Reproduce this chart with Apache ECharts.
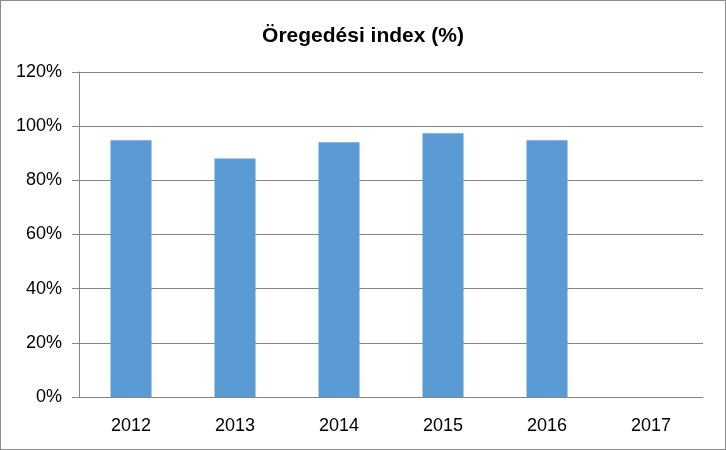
<!DOCTYPE html>
<html>
<head>
<meta charset="utf-8">
<script src="https://cdn.jsdelivr.net/npm/echarts@6/dist/echarts.min.js"></script>
<style>
    html, body { margin: 0; padding: 0; background: #fff; }
    #chart { width: 726px; height: 450px; box-sizing: border-box; border: 1px solid #8c8c8c; }
</style>
</head>
<body>
<div id="chart"></div>
<script>
// 图表数据：年份与老龄化指数（%）。
const years = ["2012", "2013", "2014", "2015", "2016", "2017"];
const indexValues = [94.8, 88.1, 94.1, 97.4, 94.8, null];
const chartTitle = "Öregedési index (%)";

const axisGray = "#868686";
const chart = echarts.init(document.getElementById("chart"));
chart.setOption({
    animation: false,
    title: {
        text: chartTitle,
        left: "center",
        top: 20,
        textStyle: { fontFamily: "Liberation Sans", fontSize: 21, fontWeight: "bold", color: "#000" }
    },
    grid: { left: 78, right: 22, top: 71, bottom: 52 },
    xAxis: {
        type: "category",
        data: years,
        axisLine: { lineStyle: { color: axisGray } },
        axisTick: { length: 6, lineStyle: { color: axisGray } },
        axisLabel: { fontFamily: "Liberation Sans", fontSize: 18, color: "#000", margin: 20 }
    },
    yAxis: {
        type: "value",
        min: 0,
        max: 120,
        interval: 20,
        axisLine: { show: true, lineStyle: { color: axisGray } },
        axisTick: { show: true, length: 7, lineStyle: { color: axisGray } },
        axisLabel: { formatter: "{value}%", fontFamily: "Liberation Sans", fontSize: 18, color: "#000", margin: 17 },
        splitLine: { lineStyle: { color: axisGray } }
    },
    series: [{
        type: "bar",
        data: indexValues,
        barWidth: 41,
        itemStyle: { color: "#5B9BD5" }
    }]
});
</script>
</body>
</html>
